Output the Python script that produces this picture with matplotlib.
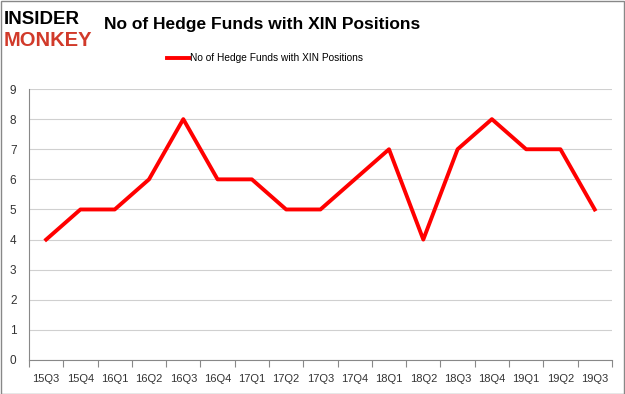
import matplotlib
matplotlib.use("Agg")
import matplotlib.pyplot as plt
from matplotlib.patches import Rectangle

quarters = ["15Q3", "15Q4", "16Q1", "16Q2", "16Q3", "16Q4", "17Q1", "17Q2", "17Q3",
            "17Q4", "18Q1", "18Q2", "18Q3", "18Q4", "19Q1", "19Q2", "19Q3"]
funds = [4, 5, 5, 6, 8, 6, 6, 5, 5, 6, 7, 4, 7, 8, 7, 7, 5]
series_name = "No of Hedge Funds with XIN Positions"

plt.rcParams["font.family"] = ["Liberation Sans", "DejaVu Sans"]

fig = plt.figure(figsize=(6.25, 3.94), dpi=100)
ax = fig.add_axes([0.0464, 0.0863, 0.9326, 0.6877])

x = range(len(quarters))
ax.plot(x, funds, color="#ff0000", linewidth=2.8, label=series_name)

ax.set_xlim(-0.5, len(quarters) - 0.5)
ax.set_ylim(0, 9)
ax.set_yticks(range(10))
ax.set_xticks([i - 0.5 for i in range(len(quarters) + 1)], minor=False)
ax.set_xticklabels([])
ax.set_xticks(list(x), minor=True)
ax.set_xticklabels(quarters, minor=True)
ax.tick_params(axis="x", which="major", length=5, color="#888888")
ax.tick_params(axis="x", which="minor", length=0, pad=10, labelsize=8, labelcolor="#333333")
ax.tick_params(axis="y", length=0, pad=9, labelsize=8.5, labelcolor="#333333")

ax.grid(axis="y", color="#d0d0d0", linewidth=0.8)
ax.set_axisbelow(True)
for side in ["top", "right"]:
    ax.spines[side].set_visible(False)
ax.spines["left"].set_color("#888888")
ax.spines["bottom"].set_color("#888888")

ax.legend(loc="upper center", bbox_to_anchor=(0.405, 1.165), frameon=False,
          fontsize=7.3, handlelength=2.2, handletextpad=0.1)

fig.text(0.166, 0.937, "No of Hedge Funds with XIN Positions", fontsize=12.5,
         fontweight="bold", va="center", ha="left")

# logo
fig.text(0.006, 0.95, "INSIDER", fontsize=13.5, fontweight="bold", color="black",
         va="center", ha="left")
fig.text(0.006, 0.897, "MONKEY", fontsize=14.5, fontweight="bold", color="#d13a2a",
         va="center", ha="left")

fig.patches.append(Rectangle((0.001, 0.001), 0.997, 0.997, transform=fig.transFigure,
                             fill=False, edgecolor="#888888", linewidth=1))

fig.savefig("out.png", dpi=100)
